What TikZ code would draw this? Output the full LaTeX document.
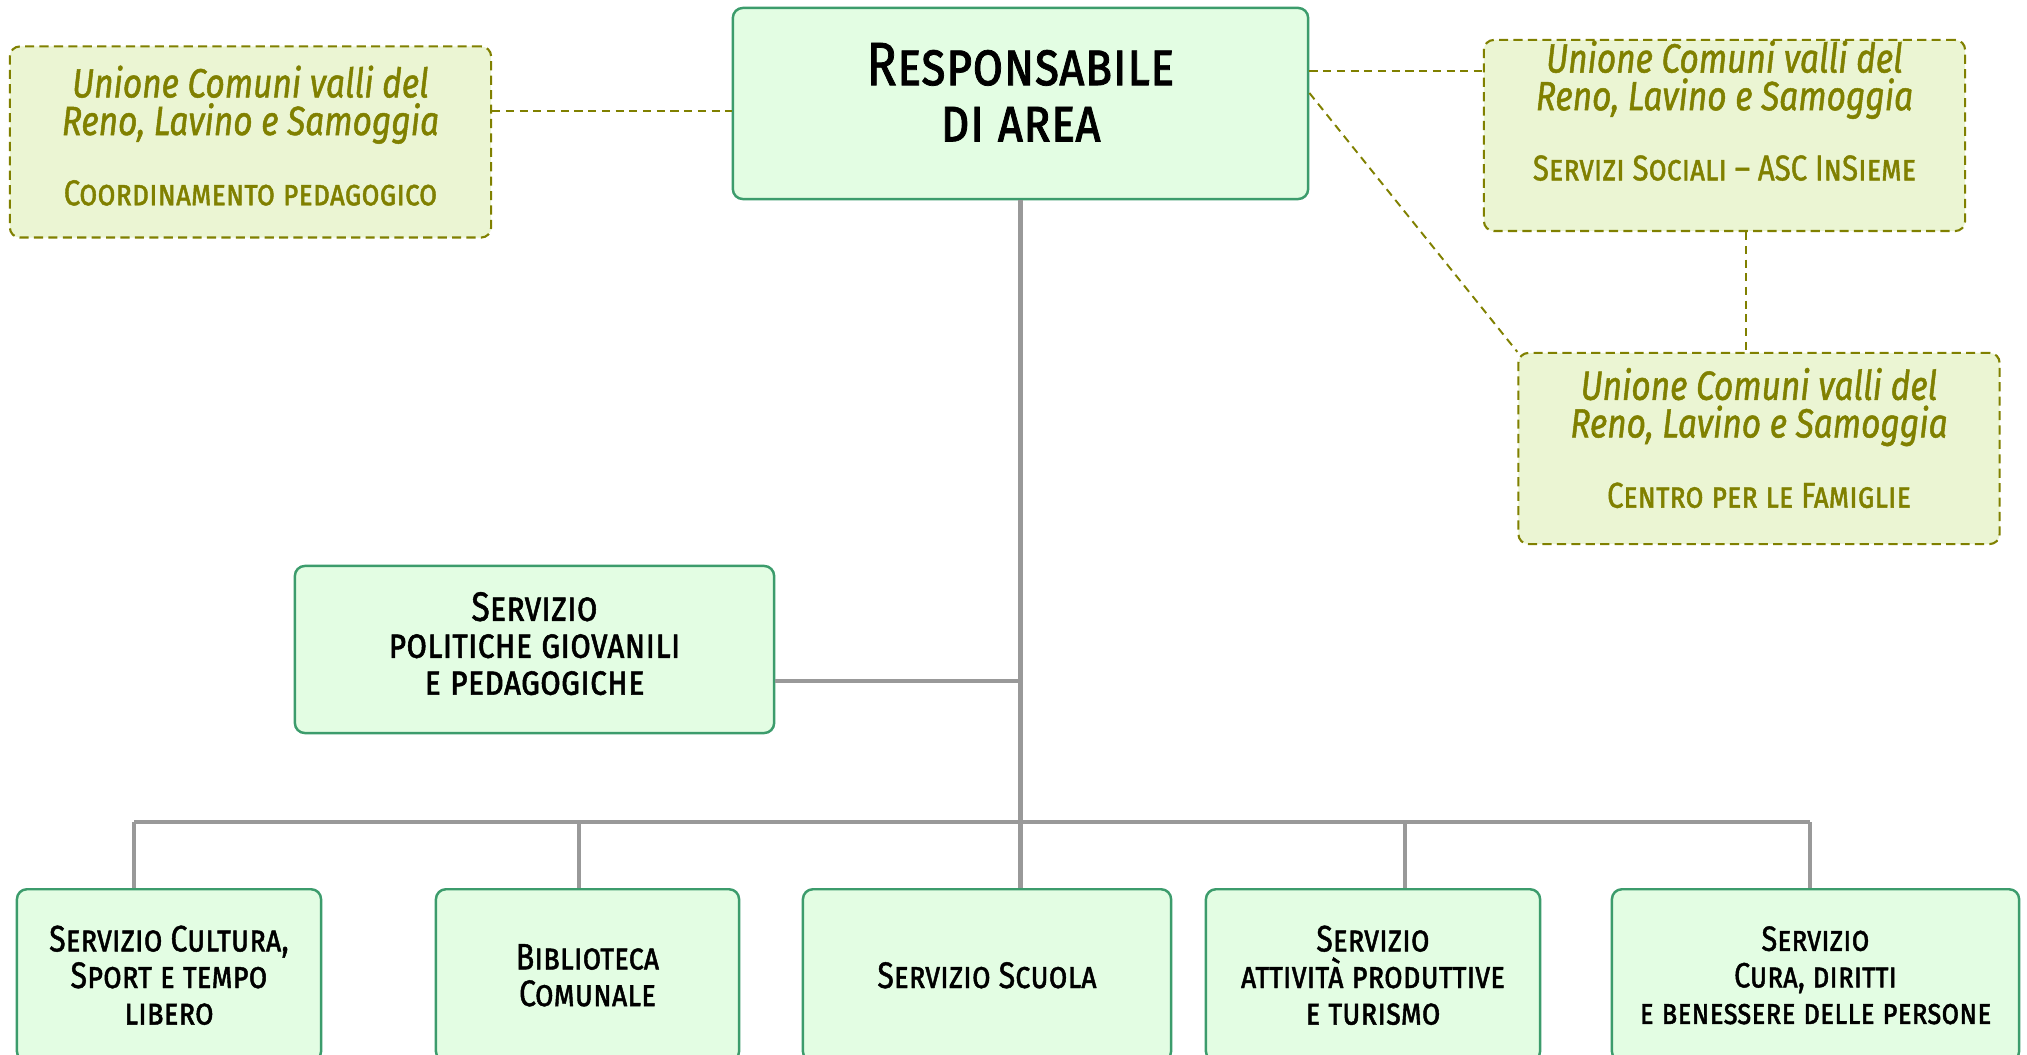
\documentclass[tikz,border=0pt]{standalone}
\usepackage{fontspec}
\setmainfont{Fira Sans}[FakeStretch=0.82, FakeBold=1.2]
\definecolor{servfill}{HTML}{E3FDE3}
\definecolor{servline}{HTML}{3C9C6C}
\definecolor{unionfill}{HTML}{EBF5D3}
\definecolor{unionline}{HTML}{808000}
\definecolor{linkgray}{HTML}{999999}
\begin{document}
\begin{tikzpicture}[x=0.01cm,y=-0.01cm,servbox/.style={rectangle, rounded corners=0.1cm, draw=servline, fill=servfill, line width=0.7pt, align=center, inner sep=0pt, font=\fontsize{10.5}{10.4}\selectfont\scshape},unionbox/.style={rectangle, rounded corners=0.1cm, draw=unionline, fill=unionfill, line width=0.6pt, dash pattern=on 2.6pt off 1.5pt, align=center, inner sep=0pt, text=unionline, minimum width=4.81cm, minimum height=1.91cm, font=\fontsize{11.6}{10.7}\selectfont},lowbox/.style={servbox, anchor=north, minimum height=1.72cm},dlink/.style={draw=unionline, line width=0.55pt, dash pattern=on 2.3pt off 1.6pt},link/.style={draw=linkgray, line width=1pt},]
            \useasboundingbox (0,0) rectangle (2027,1055);
            \node[servbox, minimum width=5.75cm, minimum height=1.91cm, font=\fontsize{17.4}{16}\selectfont\scshape] (resp) at (1020.5,103.5) {Responsabile\\di area\\[-0.55em]\mbox{}};
            \node[unionbox] (coord) at (250.5,142) {\textit{Unione Comuni valli del}\\\textit{Reno, Lavino e Samoggia}\\[0.8em]{\fontsize{10.2}{10.7}\selectfont\scshape Coordinamento pedagogico}\\[-0.6em]\mbox{}};
            \node[unionbox] (soc) at (1724.5,135.5) {\textit{Unione Comuni valli del}\\\textit{Reno, Lavino e Samoggia}\\[0.8em]{\fontsize{10.2}{10.7}\selectfont\scshape Servizi Sociali – ASC InSieme}\\[0.3em]\mbox{}};
            \node[unionbox] (famil) at (1759,448.5) {\textit{Unione Comuni valli del}\\\textit{Reno, Lavino e Samoggia}\\[0.8em]{\fontsize{10.2}{10.7}\selectfont\scshape Centro per le Famiglie}\\[-0.4em]\mbox{}};
            \node[servbox, minimum width=4.79cm, minimum height=1.67cm, font=\fontsize{11.7}{10.5}\selectfont\scshape] (polit) at (534.5,649.5) {Servizio\\politiche giovanili\\e pedagogiche\\[-0.6em]\mbox{}};
            \node[lowbox, minimum width=3.04cm] (cult) at (169,888) {Servizio Cultura,\\Sport e tempo\\libero};
            \node[lowbox, minimum width=3.03cm] (bibl) at (587.5,888) {Biblioteca\\Comunale};
            \node[lowbox, minimum width=3.68cm] (scuola) at (987,888) {Servizio Scuola};
            \node[lowbox, minimum width=3.34cm] (attiv) at (1373,888) {Servizio\\attività produttive\\e turismo};
            \node[lowbox, minimum width=4.07cm, font=\fontsize{10}{10.4}\selectfont\scshape] (cura) at (1815.5,888) {Servizio\\Cura, diritti\\e benessere delle persone};
            % grey tree
            \coordinate (jpol) at (1020.5,681);
            \coordinate (d1) at (134,822);
            \coordinate (d2) at (579,822);
            \coordinate (d4) at (1405,822);
            \coordinate (d5) at (1810,822);
            \draw[link, line width=1.2pt] (resp.south) -- (resp.south |- scuola.north);
            \draw[link] (polit.east |- jpol) -- (jpol);
            \draw[link] (d1) -- (d5);
            \foreach \d/\b in {d1/cult,d2/bibl,d4/attiv,d5/cura}
                \draw[link] (\d) -- (\d |- \b.north);
            % dashed links to the Unione
            \coordinate (jc) at (733,111);
            \coordinate (js) at (1308,71);
            \coordinate (jd) at (1308,93);
            \coordinate (jv) at (1746,300);
            \draw[dlink] (coord.east |- jc) -- (resp.west |- jc);
            \draw[dlink] (resp.east |- js) -- (soc.west |- js);
            \draw[dlink] (resp.east |- jd) -- (famil.north west);
            \draw[dlink] (soc.south -| jv) -- (famil.north -| jv);
        \end{tikzpicture}
\end{document}
